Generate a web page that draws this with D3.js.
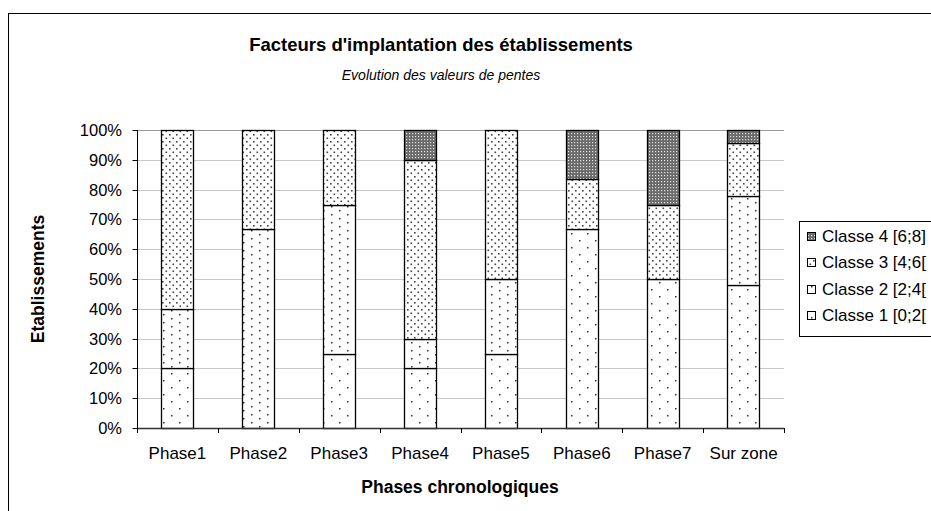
<html>
<head>
<script src="https://d3js.org/d3.v7.min.js"></script>
<style>
  body { margin: 0; background: #fff; }
  text { font-family: Arial, "Liberation Sans", sans-serif; }
</style>
</head>
<body>
<div id="chart"></div>
<script>
  // data (percent of establishments per slope class)
  var phases = ["Phase1", "Phase2", "Phase3", "Phase4", "Phase5", "Phase6", "Phase7", "Sur zone"];
  var classe1 = [20, 0, 25, 20, 25, 66.7, 50, 48];
  var classe2 = [20, 66.7, 50, 10, 25, 0, 0, 30];
  var classe3 = [60, 33.3, 25, 60, 50, 16.7, 25, 17.5];
  var classe4 = [0, 0, 0, 10, 0, 16.7, 25, 4.5];
  var classNames = ["Classe 1 [0;2[", "Classe 2 [2;4[", "Classe 3 [4;6[", "Classe 4 [6;8]"];
  var yTicks = [0, 10, 20, 30, 40, 50, 60, 70, 80, 90, 100];

  var width = 931;
  var height = 511;

  var svg = d3.select("#chart")
    .append("svg")
    .attr("width", width)
    .attr("height", height);

  // patterns
  var defs = svg.append("defs");
  function dotPattern(id, w, h, dots, size, color) {
    var p = defs.append("pattern")
      .attr("id", id)
      .attr("patternUnits", "userSpaceOnUse")
      .attr("width", w)
      .attr("height", h);
    p.append("rect").attr("width", w).attr("height", h).attr("fill", "#fff");
    dots.forEach(function(d) {
      p.append("rect")
        .attr("x", d[0]).attr("y", d[1])
        .attr("width", size).attr("height", size)
        .attr("fill", color);
    });
  }
  dotPattern("p1", 16, 14, [[3, 2], [11, 9]], 1.5, "#333");
  dotPattern("p2", 16, 8, [[3, 2], [11, 6]], 1.5, "#333");
  dotPattern("p3", 7, 7, [[1, 1], [4.5, 4.5]], 1.6, "#444");

  var p4 = defs.append("pattern")
    .attr("id", "p4")
    .attr("patternUnits", "userSpaceOnUse")
    .attr("width", 3)
    .attr("height", 3);
  p4.append("rect").attr("width", 3).attr("height", 3).attr("fill", "#6a6a6a");
  p4.append("rect").attr("x", 1).attr("y", 1).attr("width", 1.2).attr("height", 1.2).attr("fill", "#e0e0e0");

  var fills = ["url(#p1)", "url(#p2)", "url(#p3)", "url(#p4)"];

  // helper for text
  function addText(x, y, str, opts) {
    opts = opts || {};
    var t = svg.append("text")
      .attr("transform", "translate(" + x + "," + y + ")" + (opts.rotate ? " rotate(" + opts.rotate + ")" : ""))
      .attr("text-anchor", opts.anchor || "start")
      .attr("font-size", opts.size || 16)
      .attr("fill", "#000")
      .text(str);
    if (opts.bold) t.attr("font-weight", "bold");
    if (opts.italic) t.attr("font-style", "italic");
    return t;
  }

  // outer frame
  svg.append("rect")
    .attr("x", 8.5).attr("y", 13.5)
    .attr("width", 1000).attr("height", 600)
    .attr("fill", "none")
    .attr("stroke", "#000")
    .attr("stroke-width", 1);

  // titles
  addText(441, 51, "Facteurs d'implantation des établissements", {anchor: "middle", size: 18.5, bold: true});
  addText(441, 80, "Evolution des valeurs de pentes", {anchor: "middle", size: 14, italic: true});

  // scales
  var x = d3.scaleBand()
    .domain(phases)
    .range([137, 784])
    .paddingInner(0.6)
    .paddingOuter(0.3);
  var band = d3.scaleBand().domain(phases).range([137, 784]);
  var y = d3.scaleLinear().domain([0, 100]).range([428, 130]);

  // grid lines
  svg.selectAll(".grid")
    .data(yTicks.slice(1))
    .enter()
    .append("line")
    .attr("x1", 137).attr("x2", 784)
    .attr("y1", function(d) { return Math.round(y(d)) + 0.5; })
    .attr("y2", function(d) { return Math.round(y(d)) + 0.5; })
    .attr("stroke", function(d) { return d == 100 ? "#999" : "#c8c8c8"; })
    .attr("stroke-width", 1);

  // stacked bars
  var rows = phases.map(function(p, i) {
    return {phase: p, c1: classe1[i], c2: classe2[i], c3: classe3[i], c4: classe4[i]};
  });
  var stack = d3.stack().keys(["c1", "c2", "c3", "c4"]);
  var series = stack(rows);

  svg.selectAll(".serie")
    .data(series)
    .enter()
    .append("g")
    .attr("fill", function(d, i) { return fills[i]; })
    .selectAll("rect")
    .data(function(d) { return d.filter(function(s) { return s[1] - s[0] > 0; }); })
    .enter()
    .append("rect")
    .attr("x", function(d) { return Math.round(x(d.data.phase)) + 0.5; })
    .attr("width", Math.round(x.bandwidth()))
    .attr("y", function(d) { return Math.round(y(d[1])) + 0.5; })
    .attr("height", function(d) { return Math.round(y(d[0])) - Math.round(y(d[1])); })
    .attr("stroke", "#000")
    .attr("stroke-width", 1.3);

  // y axis
  var yAxis = svg.append("g")
    .attr("transform", "translate(137.5,0)");
  yAxis.append("line")
    .attr("x1", 0).attr("x2", 0)
    .attr("y1", y(100)).attr("y2", y(0))
    .attr("stroke", "#000");
  yAxis.selectAll(".tick")
    .data(yTicks)
    .enter()
    .append("line")
    .attr("x1", -5).attr("x2", 0)
    .attr("y1", function(d) { return Math.round(y(d)) + 0.5; })
    .attr("y2", function(d) { return Math.round(y(d)) + 0.5; })
    .attr("stroke", "#000");
  yTicks.forEach(function(t) {
    addText(122, y(t) + 6, t + "%", {anchor: "end", size: 16.5});
  });

  // x axis
  svg.append("line")
    .attr("x1", 137).attr("x2", 784)
    .attr("y1", 428.5).attr("y2", 428.5)
    .attr("stroke", "#333")
    .attr("stroke-width", 1.5);
  var bounds = phases.map(function(p) { return band(p); }).concat([784]);
  svg.selectAll(".xtick")
    .data(bounds)
    .enter()
    .append("line")
    .attr("x1", function(d) { return Math.round(d) + 0.5; })
    .attr("x2", function(d) { return Math.round(d) + 0.5; })
    .attr("y1", 428).attr("y2", 433)
    .attr("stroke", "#000");
  phases.forEach(function(p) {
    addText(band(p) + band.bandwidth() / 2, 459, p, {anchor: "middle", size: 17});
  });

  // axis titles
  addText(460, 493, "Phases chronologiques", {anchor: "middle", size: 17.5, bold: true});
  addText(44, 279, "Etablissements", {anchor: "middle", size: 17.5, bold: true, rotate: -90});

  // legend
  svg.append("rect")
    .attr("x", 799.5).attr("y", 221.5)
    .attr("width", 200).attr("height", 115)
    .attr("fill", "#fff")
    .attr("stroke", "#000");
  var order = [3, 2, 1, 0];
  order.forEach(function(k, i) {
    var cy = 236 + i * 26.3;
    svg.append("rect")
      .attr("x", 807.5).attr("y", Math.round(cy - 4) + 0.5)
      .attr("width", 8).attr("height", 8)
      .attr("fill", fills[k])
      .attr("stroke", "#000");
    addText(822, cy + 6, classNames[k], {size: 17});
  });
</script>
</body>
</html>
